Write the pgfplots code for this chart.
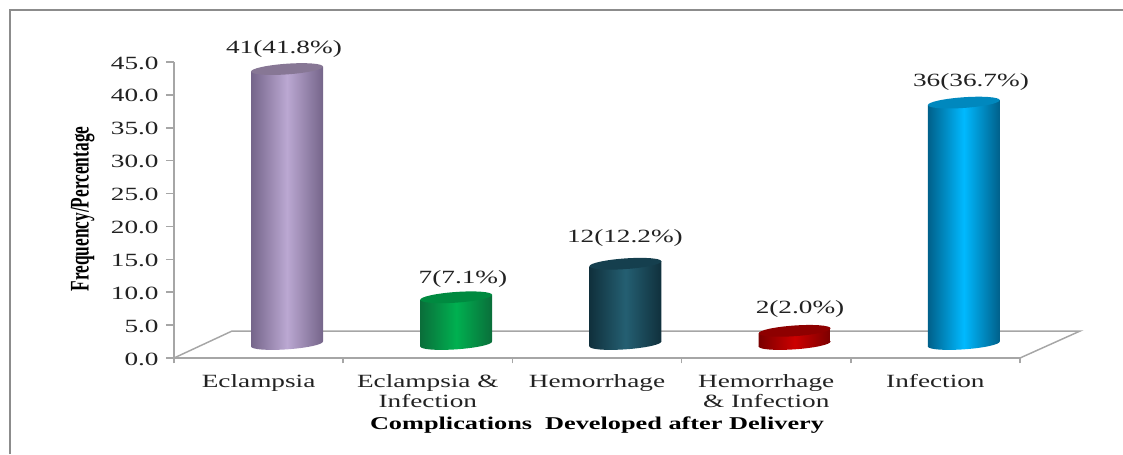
\documentclass[border=0pt]{standalone}
\usepackage{pgfplots}
\usepackage{graphicx}
\usepackage{fontspec}
\pgfplotsset{compat=1.18}
\setmainfont[FakeStretch=1.46]{Liberation Serif}
\newfontfamily\plainserif{Liberation Serif}
\definecolor{axisgray}{HTML}{A6A6A6}
\definecolor{framegray}{HTML}{8C8C8C}
\definecolor{txt}{HTML}{222222}
\definecolor{pE}{HTML}{75658A}\definecolor{pM}{HTML}{BBA8D2}\definecolor{pT}{HTML}{877795}
\definecolor{gE}{HTML}{0A6E3A}\definecolor{gM}{HTML}{00B050}\definecolor{gT}{HTML}{008A40}
\definecolor{tE}{HTML}{10303C}\definecolor{tM}{HTML}{245F72}\definecolor{tT}{HTML}{153F4E}
\definecolor{rE}{HTML}{7A0000}\definecolor{rM}{HTML}{CC0000}\definecolor{rT}{HTML}{8E0000}
\definecolor{bE}{HTML}{00608A}\definecolor{bM}{HTML}{00B9FF}\definecolor{bT}{HTML}{0088BE}
% cylinder end caps, placed by pgfplots at the data points
\newcommand{\basecap}[3]{%
  \pgfdeclareplotmark{#1}{\pgftransformrotate{4.0}\path[draw=none,left color=#2,right color=#2,middle color=#3] (0,0) ellipse (27pt and 4pt);}}
\newcommand{\uppercap}[2]{%
  \pgfdeclareplotmark{#1}{\pgftransformrotate{4.0}\path[draw=none,fill=#2] (0,0) ellipse (27pt and 4pt);}}
\basecap{pB}{pE}{pM}\basecap{gB}{gE}{gM}\basecap{tB}{tE}{tM}\basecap{rB}{rE}{rM}\basecap{bB}{bE}{bM}
\uppercap{pC}{pT}\uppercap{gC}{gT}\uppercap{tC}{tT}\uppercap{rC}{rT}\uppercap{bC}{bT}
\pgfplotsset{
  cyl place/.style={shift={(21.3pt,10.5pt)}},
  cyl/.style n args={3}{ybar,bar width=54pt,bar shift=0pt,draw=none,
     left color=#1,right color=#1,middle color=#2,
     shift={(21.3pt,10.5pt)},shift={(#3,0pt)},yslant=0.07,shift={(-#3,0pt)}},
  capb/.style={only marks,mark=#1,cyl place},
}
\begin{document}
\begin{tikzpicture}[x=1pt,y=1pt]
\useasboundingbox (0,0) rectangle (842.25pt,340.5pt);
\draw[framegray,line width=1.1pt] (7.5pt,0pt) -- (7.5pt,333pt) -- (842.25pt,333pt);
\begin{axis}[
  at={(130.5pt,72pt)},anchor=south west,
  scale only axis,width=634.5pt,height=222pt,
  xmin=0,xmax=5,ymin=0,ymax=45,clip=false,
  axis x line*=bottom,axis y line*=left,
  axis line style={axisgray,line width=1.1pt,-},
  ytick={0,5,...,45},
  yticklabel style={/pgf/number format/fixed,/pgf/number format/fixed zerofill,/pgf/number format/precision=1,/pgf/number format/assume math mode=true},
  tick style={axisgray,line width=1.1pt},
  tick align=outside,major tick length=6pt,
  xtick={0.5,1.5,2.5,3.5,4.5},
  x tick style={draw=none},
  xticklabels={Eclampsia,{Eclampsia \&\\ Infection},Hemorrhage,{Hemorrhage\\ \& Infection},Infection},
  minor xtick={0,1,2,3,4,5},
  minor x tick style={axisgray,line width=1.1pt,draw=axisgray},
  minor tick length=4pt,
  x tick label style={align=center,font=\fontsize{14pt}{15pt}\selectfont,text=txt,yshift=-3pt},
  y tick label style={font=\fontsize{14pt}{15pt}\selectfont,text=txt,xshift=-2pt,yshift=-0.7pt},
  xlabel={\fontsize{13.5pt}{15pt}\selectfont\bfseries Complications\ \ Developed after Delivery},
  ylabel={\scalebox{1}[1.55]{\plainserif\fontsize{13pt}{15pt}\selectfont\bfseries Frequency/Percentage}},
  every axis x label/.style={at={(axis description cs:0.5,-0.2265)},anchor=center},
  every axis y label/.style={at={(axis description cs:-0.108,0.503)},rotate=90,anchor=center},
]
% floor
\addplot[axisgray,line width=1.1pt] coordinates {(0,0) (0.343,4.1) (5.355,4.1) (5,0)};
% Eclampsia
\addplot[capb=pB] coordinates {(0.5,0)};
\addplot[cyl={pE}{pM}{63.45pt}] coordinates {(0.5,41.8)};
\addplot[capb=pC] coordinates {(0.5,41.8)};
% Eclampsia & Infection
\addplot[capb=gB] coordinates {(1.5,0)};
\addplot[cyl={gE}{gM}{190.35pt}] coordinates {(1.5,7.1)};
\addplot[capb=gC] coordinates {(1.5,7.1)};
% Hemorrhage
\addplot[capb=tB] coordinates {(2.5,0)};
\addplot[cyl={tE}{tM}{317.25pt}] coordinates {(2.5,12.2)};
\addplot[capb=tC] coordinates {(2.5,12.2)};
% Hemorrhage & Infection
\addplot[capb=rB] coordinates {(3.5,0)};
\addplot[cyl={rE}{rM}{444.15pt}] coordinates {(3.5,2.0)};
\addplot[capb=rC] coordinates {(3.5,2.0)};
% Infection
\addplot[capb=bB] coordinates {(4.5,0)};
\addplot[cyl={bE}{bM}{571.05pt}] coordinates {(4.5,36.7)};
\addplot[capb=bC] coordinates {(4.5,36.7)};
\begin{scope}[every node/.style={font=\fontsize{14pt}{15pt}\selectfont,text=txt,anchor=center,inner sep=0pt,yshift=-1.5pt}]
\node at (axis cs:0.650,47.28) {41(41.8\%)};
\node at (axis cs:1.708,12.31) {7(7.1\%)};
\node at (axis cs:2.665,18.55) {12(12.2\%)};
\node at (axis cs:3.700,7.75) {2(2.0\%)};
\node at (axis cs:4.710,42.26) {36(36.7\%)};
\end{scope}
\end{axis}
\end{tikzpicture}
\end{document}
